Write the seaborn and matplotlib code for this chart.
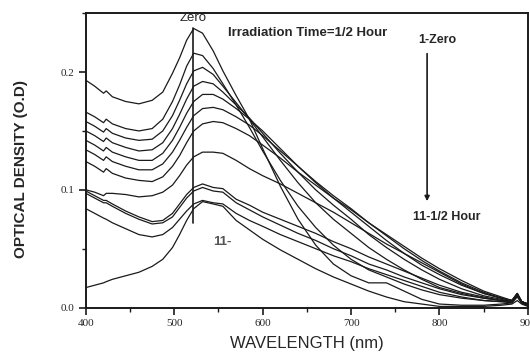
import numpy as np
import pandas as pd
import matplotlib
matplotlib.use("Agg")
import matplotlib.pyplot as plt
import seaborn as sns
from matplotlib.ticker import MultipleLocator

sns.set_theme(style="white")
plt.rcParams['font.family'] = ['Liberation Sans', 'DejaVu Sans']

wavelength = [400, 410, 420, 423, 430, 445, 460, 475, 487, 498, 506, 514, 522, 532, 544, 555, 570, 585,
              600, 620, 640, 660, 680, 700, 720, 740, 760, 780, 800, 825, 850, 870, 882, 888, 893, 900]

od_1 = [.193, .188, .182, .184, .179, .175, .173, .176, .183, .199, .212, .227, .237, .233, .218, .201, .180, .160,
        .135, .103, .075, .053, .037, .027, .021, .021, .014, .007, .003, .002, .002, .003, .004, .010, .004, .002]
od_2 = [.166, .162, .157, .160, .156, .152, .150, .152, .160, .175, .189, .205, .216, .214, .203, .190, .172, .153,
        .133, .108, .086, .068, .053, .041, .032, .026, .020, .015, .011, .008, .006, .005, .005, .011, .005, .003]
od_3 = [.158, .154, .149, .152, .148, .144, .142, .143, .150, .163, .176, .190, .201, .204, .198, .188, .174, .160,
        .145, .125, .106, .089, .075, .063, .051, .041, .032, .024, .017, .012, .008, .006, .005, .011, .005, .003]
od_4 = [.150, .146, .141, .144, .140, .136, .133, .134, .140, .152, .164, .177, .188, .192, .190, .183, .172, .161,
        .148, .131, .115, .100, .087, .075, .062, .051, .041, .032, .024, .016, .010, .007, .005, .011, .005, .003]
od_5 = [.142, .138, .133, .136, .132, .128, .125, .125, .131, .142, .153, .165, .175, .181, .181, .177, .169, .160,
        .150, .135, .120, .106, .093, .081, .069, .057, .046, .036, .028, .019, .012, .008, .006, .012, .005, .003]
od_6 = [.134, .130, .125, .128, .124, .120, .117, .117, .122, .132, .142, .153, .163, .169, .170, .168, .162, .155,
        .146, .133, .120, .107, .095, .084, .072, .061, .050, .040, .031, .021, .013, .008, .006, .012, .005, .003]
od_7 = [.124, .120, .115, .118, .114, .110, .108, .107, .111, .120, .129, .140, .150, .156, .158, .157, .152, .146,
        .138, .127, .115, .104, .093, .083, .072, .062, .052, .042, .033, .023, .014, .009, .006, .012, .005, .003]
od_8 = [.100, .098, .095, .097, .097, .096, .094, .095, .098, .104, .112, .121, .128, .132, .132, .131, .125, .118,
        .112, .105, .097, .089, .081, .072, .063, .054, .046, .038, .030, .020, .012, .008, .006, .012, .005, .003]
od_9 = [.099, .095, .091, .091, .088, .082, .077, .073, .074, .080, .088, .096, .102, .105, .102, .101, .092, .087,
        .081, .075, .069, .063, .056, .050, .043, .037, .031, .025, .019, .013, .009, .006, .005, .010, .004, .002]
od_10 = [.097, .093, .089, .089, .086, .080, .075, .071, .072, .077, .085, .093, .099, .102, .099, .098, .089, .083,
         .077, .070, .063, .057, .050, .044, .037, .032, .026, .021, .016, .011, .008, .006, .005, .010, .004, .002]
od_11 = [.084, .080, .076, .075, .072, .067, .062, .060, .062, .068, .075, .082, .088, .091, .089, .088, .080, .074,
         .069, .062, .056, .050, .044, .039, .033, .028, .023, .018, .013, .009, .006, .005, .004, .009, .004, .002]
od_12 = [.017, .019, .021, .022, .024, .027, .030, .035, .041, .051, .062, .074, .084, .090, .088, .086, .074, .066,
         .058, .049, .041, .033, .026, .020, .014, .009, .005, .003, .001, .001, .001, .002, .003, .006, .003, .001]

series = [od_1, od_2, od_3, od_4, od_5, od_6, od_7, od_8, od_9, od_10, od_11, od_12]

x_ticks = [400, 500, 600, 700, 800, 900]
y_ticks = [0.0, 0.1, 0.2]
y_tick_labels = ["0.0", "0.1", "0.2"]

fig = plt.figure(figsize=(5.3, 3.56), dpi=100)
ax = fig.add_axes([0.162, 0.136, 0.834, 0.827])

for s in series:
    sns.lineplot(x=wavelength, y=s, ax=ax, color="#1a1a1a", lw=0.9, legend=False)

ax.set_xlim(400, 900)
ax.set_ylim(0, 0.25)
ax.set_xticks(x_ticks)
ax.set_xticklabels([str(t) for t in x_ticks], family=['Liberation Serif'], fontsize=8)
ax.set_yticks(y_ticks)
ax.set_yticklabels(y_tick_labels, family=['Liberation Serif'], fontsize=8)
ax.xaxis.set_minor_locator(MultipleLocator(50))
ax.yaxis.set_minor_locator(MultipleLocator(0.05))
ax.tick_params(which='major', direction='out', length=5, width=1.2, color='k', pad=3)
ax.tick_params(which='minor', direction='out', length=3, width=1.0, color='k')
ax.tick_params(axis='x', which='both', bottom=True)
ax.tick_params(axis='y', which='both', left=True)
for sp in ax.spines.values():
    sp.set_color('k')
    sp.set_linewidth(1.4)

ax.set_xlabel("WAVELENGTH (nm)", fontsize=12, labelpad=6)
ax.set_ylabel("OPTICAL DENSITY (O.D)", fontsize=11, fontweight='bold')
ax.yaxis.set_label_coords(-0.13, 0.47)

# annotations
ax.plot([521, 521], [0.237, 0.072], color='k', lw=1.2)
ax.text(521, 0.246, "Zero", ha='center', va='center', fontsize=9.5)
ax.text(561, 0.233, "Irradiation Time=1/2 Hour", ha='left', va='center', fontsize=9.5, fontweight='bold')
ax.text(798, 0.227, "1-Zero", ha='center', va='center', fontsize=9, fontweight='bold')
ax.annotate("", xy=(786, 0.088), xytext=(786, 0.218),
            arrowprops=dict(arrowstyle='-|>', color='k', lw=1.2, mutation_scale=7))
ax.text(808, 0.077, "11-1/2 Hour", ha='center', va='center', fontsize=9, fontweight='bold')
ax.text(554, 0.056, "11-", ha='center', va='center', fontsize=9.5, fontweight='bold', color='#555555')

fig.savefig("out.png", dpi=100)
